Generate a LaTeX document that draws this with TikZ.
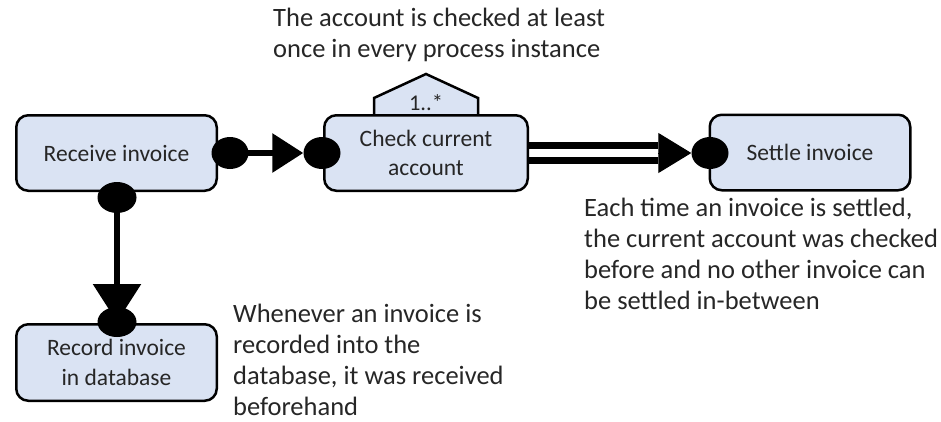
\documentclass[tikz,border=0pt]{standalone}
\usepackage{fontspec}
\setmainfont{Carlito}
\usetikzlibrary{arrows.meta,shapes.geometric}
\definecolor{boxfill}{HTML}{DAE3F3}
\definecolor{txt}{HTML}{262626}
\pgfdeclarelayer{bg}
\pgfsetlayers{bg,main}
\begin{document}
\begin{tikzpicture}[x=1pt,y=-1pt,
  task/.style={draw=black, line width=2.5pt, fill=boxfill, rounded corners=12pt,
    minimum width=200.5pt, minimum height=75.5pt, align=center,
    font=\fontsize{23.5}{29.5}\selectfont, text=txt, inner sep=0pt},
  dot/.style={ellipse, fill=black, inner sep=0pt, minimum width=37pt, minimum height=32pt},
  note/.style={align=left, anchor=north west, inner sep=0pt,
    font=\fontsize{26.5}{31}\selectfont, text=txt},
  conn/.style={line width=6pt},
]
\useasboundingbox (0,0) rectangle (941,421);

% multiplicity tab
\draw[line width=2.5pt, fill=boxfill, line join=miter]
  (374,114) -- (374,98) -- (426,74) -- (478,98) -- (478,114);
\node[font=\fontsize{22.5}{26}\selectfont, text=txt, anchor=base, inner sep=0pt] (mult) at (426,110) {1..*};

% tasks
\node[task] (receive) at (116.5,153) {Receive invoice};
\node[task, minimum width=203.5pt] (check) at (426,153) {Check current\\account};
\node[task] (settle) at (810,152.5) {Settle invoice};
\node[task, minimum height=76.5pt] (record) at (116.5,362.5) {Record invoice\\in database};

% dots
\node[dot] (rd) at (230,153) {};
\node[dot] (cd) at (322,153) {};
\node[dot] (sd) at (710,153) {};
\node[dot, minimum width=39pt, minimum height=31pt] (rbd) at (117,197.5) {};
\node[dot, minimum width=39pt, minimum height=30pt] (recd) at (117,322) {};

% connectors
\begin{pgfonlayer}{bg}
\draw[conn, -{Triangle[length=31pt,width=38pt]}] (rd.center) -- (cd.west);
\draw[conn, -{Triangle[length=38pt,width=47pt]}] (rbd.center) -- (recd.center);
\draw[line width=1pt, -{Triangle[length=33pt,width=40pt]}] (check.east) -- (sd.west);
\draw[line width=7pt, double=white, double distance=8pt, shorten >=33pt] (check.east) -- (sd.west);
\end{pgfonlayer}

% notes
\node[note] (n1) at (273,8) {The account is checked at least\\once in every process instance};
\node[note] (n2) at (584,198) {Each time an invoice is settled,\\the current account was checked\\before and no other invoice can\\be settled in-between};
\node[note] (n3) at (233,304) {Whenever an invoice is\\recorded into the\\database, it was received\\beforehand};
\end{tikzpicture}
\end{document}
